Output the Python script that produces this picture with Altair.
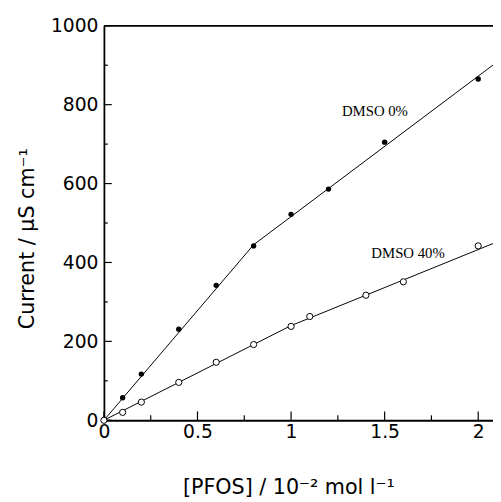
import altair as alt
import pandas as pd

# DMSO 0% (filled circles)
x0 = [0, 0.1, 0.2, 0.4, 0.6, 0.8, 1.0, 1.2, 1.5, 2.0]
y0 = [0, 57, 117, 231, 342, 442, 522, 586, 705, 865]
# DMSO 40% (open circles)
x40 = [0, 0.1, 0.2, 0.4, 0.6, 0.8, 1.0, 1.1, 1.4, 1.6, 2.0]
y40 = [0, 20, 46, 96, 147, 192, 238, 263, 317, 351, 442]
# fitted straight-line segments
fit0_x = [0, 0.8, 2.1]
fit0_y = [0, 445, 908]
fit40_x = [0, 1.0, 2.1]
fit40_y = [0, 240, 452]
# annotations
label_text = ["DMSO 0%", "DMSO 40%"]
label_x = [1.448, 1.625]
label_y = [785, 423]
# ticks
x_major = [0, 0.5, 1, 1.5, 2]
x_minor = [0.25, 0.75, 1.25, 1.75]
y_major = [0, 200, 400, 600, 800, 1000]
y_minor = [100, 300, 500, 700, 900]

XMAX = 2.079
W, H = 395.5, 401
FONT = "DejaVu Sans"

pts0 = pd.DataFrame({"x": x0, "y": y0})
pts40 = pd.DataFrame({"x": x40, "y": y40})
fit0 = pd.DataFrame({"x": fit0_x, "y": fit0_y})
fit40 = pd.DataFrame({"x": fit40_x, "y": fit40_y})
labels = pd.DataFrame({"t": label_text, "x": label_x, "y": label_y})

xs = alt.Scale(domain=[0, XMAX], nice=False, zero=False)
ys = alt.Scale(domain=[0, 1000], nice=False, zero=False)

xaxis = alt.Axis(values=x_major, labelExpr="'' + datum.value", ticks=False, grid=False, labelFlush=False,
                 labelFont=FONT, labelFontSize=19, labelColor="black", labelPadding=3,
                 domainColor="black", domainWidth=1.8,
                 title="[PFOS] / 10\u207b\u00b2 mol l\u207b\u00b9", titleFont=FONT,
                 titleFontSize=21, titleFontWeight="normal", titleColor="black",
                 titleX=187.5, titleY=68, titleBaseline="middle", titleAlign="center")
yaxis = alt.Axis(values=y_major, labelExpr="'' + datum.value", ticks=False, grid=False, labelFlush=False,
                 labelFont=FONT, labelFontSize=19, labelColor="black", labelPadding=6,
                 domainColor="black", domainWidth=1.8,
                 title="Current / \u00b5S cm\u207b\u00b9", titleFont=FONT,
                 titleFontSize=21, titleFontWeight="normal", titleColor="black",
                 titleX=-78, titleY=216, titleBaseline="middle", titleAlign="center", titleAngle=270)

base_x = alt.X("x:Q", scale=xs, axis=xaxis)
base_y = alt.Y("y:Q", scale=ys, axis=yaxis)

lines0 = alt.Chart(fit0).mark_line(color="black", strokeWidth=1, clip=True).encode(x=base_x, y=base_y)
lines40 = alt.Chart(fit40).mark_line(color="black", strokeWidth=1, clip=True).encode(x="x:Q", y="y:Q")
filled = alt.Chart(pts0).mark_point(shape="circle", filled=True, color="black", size=30, opacity=1).encode(x="x:Q", y="y:Q")
opened = alt.Chart(pts40).mark_point(shape="circle", filled=True, fill="white", stroke="black",
                                       strokeWidth=1, size=40, opacity=1).encode(x="x:Q", y="y:Q")
text = alt.Chart(labels).mark_text(font="Liberation Serif", fontSize=15, color="black").encode(
    x="x:Q", y="y:Q", text="t:N")

ymaj = alt.Chart(pd.DataFrame({"y": y_major})).mark_rule(color="black", strokeWidth=1.2).encode(
    y="y:Q", x=alt.value(0), x2=alt.value(8))
ymin = alt.Chart(pd.DataFrame({"y": y_minor})).mark_rule(color="black", strokeWidth=1.2).encode(
    y="y:Q", x=alt.value(0), x2=alt.value(4))
xmaj = alt.Chart(pd.DataFrame({"x": x_major})).mark_rule(color="black", strokeWidth=1.2).encode(
    x="x:Q", y=alt.value(H), y2=alt.value(H - 9))
xmin = alt.Chart(pd.DataFrame({"x": x_minor})).mark_rule(color="black", strokeWidth=1.2).encode(
    x="x:Q", y=alt.value(H), y2=alt.value(H - 5))
top = alt.Chart(pd.DataFrame({"y": [1000]})).mark_rule(color="black", strokeWidth=1.8).encode(
    y="y:Q", x=alt.value(0), x2=alt.value(W))

chart = alt.layer(lines0, lines40, ymaj, ymin, xmaj, xmin, top, filled, opened, text).properties(
    width=W, height=H,
    padding={"left": 97.5, "top": 14, "right": 0, "bottom": 78},
    autosize=alt.AutoSizeParams(type="none"),
).configure_view(stroke=None)

chart.save("out.html", embed_options={"renderer": "svg", "actions": False})
